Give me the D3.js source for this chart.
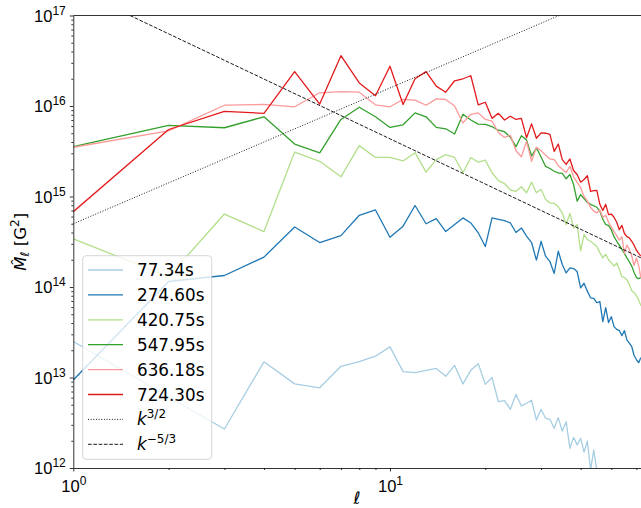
<!DOCTYPE html>
<html>
<head>
<meta charset="utf-8">
<script src="https://cdn.jsdelivr.net/npm/d3@7"></script>
<style>
  body { margin: 0; background: #fff; }
  svg { display: block; font-family: "DejaVu Sans", sans-serif; }
</style>
</head>
<body>
<div id="chart"></div>
<script>
// multipole index l = 1..62
const ell = d3.range(1, 63);

// power spectra, one array per snapshot
const s07734 = [2.5e13, 6.1e12, 2.7e12, 1.49e13, 8.5e12, 7.7e12, 1.33e13, 1.5e13, 1.72e13, 2.18e13,
  1.16e13, 1.13e13, 1.2e13, 1.26e13, 1.03e13, 1.36e13, 8.5e12, 1.2e13, 1.42e13, 8.4e12,
  1.0e13, 5.4e12, 5.55e12, 4.45e12, 6.5e12, 4.85e12, 5.2e12, 5.6e12, 3.4e12, 4.45e12,
  3.55e12, 3.45e12, 2.75e12, 3.6e12, 2.56e12, 3.25e12, 1.65e12, 2.18e12, 1.8e12, 2.13e12,
  1.5e12, 1.99e12, 9.5e11, 1.58e12, 9.5e11];
const s27460 = [9.4e12, 1.15e14, 1.34e14, 2.14e14, 4.6e14, 3.1e14, 3.7e14, 6.2e14, 7.1e14, 3.55e14,
  4.7e14, 7.95e14, 5.0e14, 5.7e14, 4.1e14, 4.9e14, 5.8e14, 5.1e14, 3.97e14, 2.8e14,
  5.8e14, 5.6e14, 5.4e14, 5.1e14, 4.0e14, 4.5e14, 3.65e14, 3.1e14, 1.98e14, 3.2e14,
  2.19e14, 1.91e14, 1.41e14, 2.49e14, 1.77e14, 1.43e14, 1.63e14, 1.6e14, 1.48e14, 9.8e13,
  1.1e14, 9.0e13, 7.6e13, 7.5e13, 6.7e13, 6.9e13, 4.15e13, 5.9e13, 4.05e13, 4.7e13,
  3.65e13, 3.4e13, 3.3e13, 2.9e13, 3.3e13, 2.6e13, 2.4e13, 2.2e13, 1.75e13, 1.58e13,
  1.46e13, 1.66e13];
const s42075 = [3.4e14, 1.3e14, 6.4e14, 4.1e14, 3.1e15, 2.45e15, 1.65e15, 3.65e15, 2.7e15, 2.7e15,
  2.47e15, 3.05e15, 1.86e15, 2.56e15, 2.9e15, 2.7e15, 1.83e15, 2.7e15, 2.4e15, 2.52e15,
  1.83e15, 1.5e15, 1.39e15, 1.18e15, 1.14e15, 1.28e15, 1.1e15, 1.44e15, 1.1e15, 1.2e15,
  9.3e14, 8.5e14, 8.4e14, 7.7e14, 6.6e14, 4.9e14, 6.5e14, 4.5e14, 4.9e14, 2.5e14,
  3.8e14, 3.35e14, 3.2e14, 3.0e14, 2.8e14, 2.4e14, 2.1e14, 2.3e14, 2.0e14, 1.85e14,
  1.7e14, 1.85e14, 1.56e14, 1.3e14, 1.27e14, 1.2e14, 1.07e14, 9.1e13, 8.7e13, 8.0e13,
  7.2e13, 6.2e13];
const s54795 = [3.55e15, 6.1e15, 5.75e15, 7.6e15, 3.8e15, 3.04e15, 7.1e15, 9.7e15, 7.6e15, 5.8e15,
  6.2e15, 8.4e15, 7.6e15, 5.8e15, 5.6e15, 4.9e15, 8.1e15, 7.0e15, 6.3e15, 6.25e15,
  5.9e15, 5.4e15, 5.2e15, 4.5e15, 3.55e15, 4.7e15, 4.2e15, 2.8e15, 3.45e15, 2.73e15,
  2.15e15, 2.04e15, 1.9e15, 1.82e15, 1.8e15, 1.57e15, 1.75e15, 1.36e15, 8.9e14, 1.05e15,
  9.5e14, 8.6e14, 8.2e14, 7.9e14, 7.6e14, 6.9e14, 5.6e14, 4.9e14, 4.8e14, 4.3e14,
  3.6e14, 3.2e14, 2.9e14, 2.6e14, 2.35e14, 2.1e14, 1.9e14, 1.7e14, 1.45e14, 1.27e14,
  1.24e14, 1.27e14];
const s63618 = [3.5e15, 5.3e15, 1.02e16, 1.04e16, 9.8e15, 1.4e16, 1.44e16, 1.42e16, 1.03e16, 9.8e15,
  1.18e16, 1.16e16, 1.02e16, 1.2e16, 1.18e16, 1.0e16, 6.5e15, 8.1e15, 8.4e15, 7.1e15,
  6.8e15, 5.1e15, 4.5e15, 4.75e15, 3.2e15, 2.75e15, 4.05e15, 2.45e15, 3.5e15, 3.2e15,
  2.85e15, 2.6e15, 2.55e15, 2.2e15, 2.0e15, 1.84e15, 2.15e15, 1.66e15, 1.43e15, 1.25e15,
  1.0e15, 8.9e14, 7.6e14, 6.9e14, 6.6e14, 7.1e14, 5.9e14, 6.2e14, 5.2e14, 4.6e14,
  4.1e14, 3.7e14, 3.3e14, 3.6e14, 2.35e14, 2.9e14, 2.6e14, 2.2e14, 1.73e14, 2.1e14,
  1.73e14, 1.27e14];
const s72430 = [6.8e14, 5.5e15, 8.7e15, 8.3e15, 2.4e16, 1.05e16, 3.6e16, 1.8e16, 1.3e16, 2.75e16,
  1.04e16, 2.0e16, 2.4e16, 1.66e16, 1.42e16, 1.9e16, 2.0e16, 2.16e16, 1.03e16, 1.1e16,
  7.3e15, 8.3e15, 7.0e15, 7.7e15, 7.1e15, 7.3e15, 4.45e15, 6.35e15, 4.4e15, 5.05e15,
  5.0e15, 4.85e15, 3.15e15, 3.8e15, 2.56e15, 2.26e15, 2.6e15, 1.94e15, 1.75e15, 1.44e15,
  1.54e15, 1.7e15, 1.14e15, 1.16e15, 1.17e15, 8.2e14, 7.0e14, 8.2e14, 6.3e14, 6.4e14,
  5.9e14, 5.2e14, 4.3e14, 4.8e14, 3.9e14, 3.6e14, 3.5e14, 3.2e14, 2.9e14, 2.55e14,
  2.35e14, 2.2e14];

const seriesLabels = ["77.34s", "274.60s", "420.75s", "547.95s", "636.18s", "724.30s"];
const seriesValues = [s07734, s27460, s42075, s54795, s63618, s72430];
const seriesColors = ["#a6cee3", "#1f78b4", "#b2df8a", "#33a02c", "#fb9a99", "#e31a1c"];

// reference power laws, two points read on each line
const refDottedL = [1, 34.2];
const refDottedV = [5e14, 1e17];
const refDashedL = [1.51, 62];
const refDashedV = [1e17, 2.1e14];

const xTicks = [1, 10];
const yTicks = [1e12, 1e13, 1e14, 1e15, 1e16, 1e17];

const W = 641, H = 508;
const plot = { left: 73.3, right: 640.9, top: 15.5, bottom: 468 };

const svg = d3.select("#chart").append("svg")
  .attr("width", W).attr("height", H);

const x = d3.scaleLog().domain([1, 62]).range([plot.left, plot.right]);
const y = d3.scaleLog().domain([1e12, 1e17]).range([plot.bottom, plot.top]);

svg.append("clipPath").attr("id", "clip")
  .append("rect")
  .attr("x", plot.left).attr("y", plot.top)
  .attr("width", plot.right - plot.left).attr("height", plot.bottom - plot.top);

const line = d3.line()
  .x(d => x(d[0]))
  .y(d => y(d[1]));

const g = svg.append("g").attr("clip-path", "url(#clip)");

seriesValues.forEach((vals, i) => {
  g.append("path")
    .datum(vals.map((v, j) => [ell[j], v]))
    .attr("fill", "none")
    .attr("stroke", seriesColors[i])
    .attr("stroke-width", 1.3)
    .attr("stroke-linejoin", "round")
    .attr("d", line);
});

g.append("path")
  .datum(refDottedL.map((l, j) => [l, refDottedV[j]]))
  .attr("fill", "none").attr("stroke", "#000").attr("stroke-width", 0.9)
  .attr("stroke-dasharray", "1,1.65")
  .attr("d", line);

g.append("path")
  .datum(refDashedL.map((l, j) => [l, refDashedV[j]]))
  .attr("fill", "none").attr("stroke", "#000").attr("stroke-width", 0.9)
  .attr("stroke-dasharray", "3.7,1.6")
  .attr("d", line);

// minor ticks
const minorY = [];
yTicks.slice(0, -1).forEach(t => { for (let k = 2; k < 10; k++) minorY.push(t * k); });
const minorX = [2, 3, 4, 5, 6, 7, 8, 9, 20, 30, 40, 50, 60];

svg.append("g")
  .attr("transform", `translate(${plot.left},0)`)
  .call(d3.axisLeft(y).tickValues(minorY).tickSize(2).tickFormat(""))
  .call(a => a.select(".domain").remove());

svg.append("g")
  .attr("transform", `translate(0,${plot.bottom})`)
  .call(d3.axisBottom(x).tickValues(minorX).tickSize(2).tickFormat(""))
  .call(a => a.select(".domain").remove());

// major axes
const yAxis = svg.append("g")
  .attr("transform", `translate(${plot.left},0)`)
  .call(d3.axisLeft(y).tickValues(yTicks).tickSize(3.5).tickSizeOuter(0).tickPadding(4));

const xAxis = svg.append("g")
  .attr("transform", `translate(0,${plot.bottom})`)
  .call(d3.axisBottom(x).tickValues(xTicks).tickSize(3.5).tickSizeOuter(0).tickPadding(3.5));

[yAxis, xAxis].forEach(a => {
  a.selectAll("line").attr("stroke", "#000").attr("stroke-width", 0.8);
  a.select(".domain").attr("stroke", "#000").attr("stroke-width", 0.8);
});
svg.selectAll(".tick line").attr("stroke-width", 0.8);

function powerLabel(sel) {
  sel.each(function (d) {
    const t = d3.select(this);
    const exp = Math.round(Math.log10(d));
    t.text(null).attr("font-size", 16.5).attr("fill", "#000");
    t.append("tspan").text("10");
    t.append("tspan").attr("font-size", 12).attr("dy", -7).text(exp);
  });
}
yAxis.selectAll(".tick text").call(powerLabel).attr("dy", "0.35em");
xAxis.selectAll(".tick text").call(powerLabel).attr("dy", "1.05em");

// top spine
svg.append("line")
  .attr("x1", plot.left).attr("x2", W)
  .attr("y1", plot.top).attr("y2", plot.top)
  .attr("stroke", "#000").attr("stroke-width", 0.8);

// axis labels
const yl = svg.append("text")
  .attr("transform", `translate(26,${(plot.top + plot.bottom) / 2}) rotate(-90)`)
  .attr("text-anchor", "middle").attr("font-size", 16.5);
yl.append("tspan").attr("font-style", "italic").text("M\u0302");
yl.append("tspan").attr("font-style", "italic").attr("font-size", 12).attr("dy", 3).text("\u2113");
yl.append("tspan").attr("dy", -3).text(" [G");
yl.append("tspan").attr("font-size", 12).attr("dy", -7).text("2");
yl.append("tspan").attr("dy", 7).text("]");

svg.append("text")
  .attr("x", (plot.left + plot.right) / 2).attr("y", 504)
  .attr("text-anchor", "middle").attr("font-size", 17)
  .attr("font-style", "italic")
  .text("\u2113");

// legend
const leg = svg.append("g");
leg.append("rect")
  .attr("x", 82.7).attr("y", 255.7).attr("width", 129).attr("height", 203.6)
  .attr("rx", 3.5)
  .attr("fill", "#fff").attr("fill-opacity", 0.8)
  .attr("stroke", "#ccc").attr("stroke-opacity", 0.8).attr("stroke-width", 1);

const legendRows = seriesLabels.map((s, i) => ({ label: s, color: seriesColors[i], dash: null }))
  .concat([
    { label: "k", sup: "3/2", color: "#000", dash: "1,1.65" },
    { label: "k", sup: "\u22125/3", color: "#000", dash: "3.7,1.6" }
  ]);

legendRows.forEach((r, i) => {
  const yy = 270 + i * 24.9;
  leg.append("line")
    .attr("x1", 88).attr("x2", 123).attr("y1", yy).attr("y2", yy)
    .attr("stroke", r.color)
    .attr("stroke-width", r.dash ? 0.9 : 1.3)
    .attr("stroke-dasharray", r.dash);
  const t = leg.append("text")
    .attr("x", 137).attr("y", yy + 6).attr("font-size", 16.8);
  if (r.sup) {
    t.append("tspan").attr("font-style", "italic").text(r.label);
    t.append("tspan").attr("font-size", 12).attr("dy", -7).text(r.sup);
  } else {
    t.text(r.label);
  }
});
</script>
</body>
</html>
